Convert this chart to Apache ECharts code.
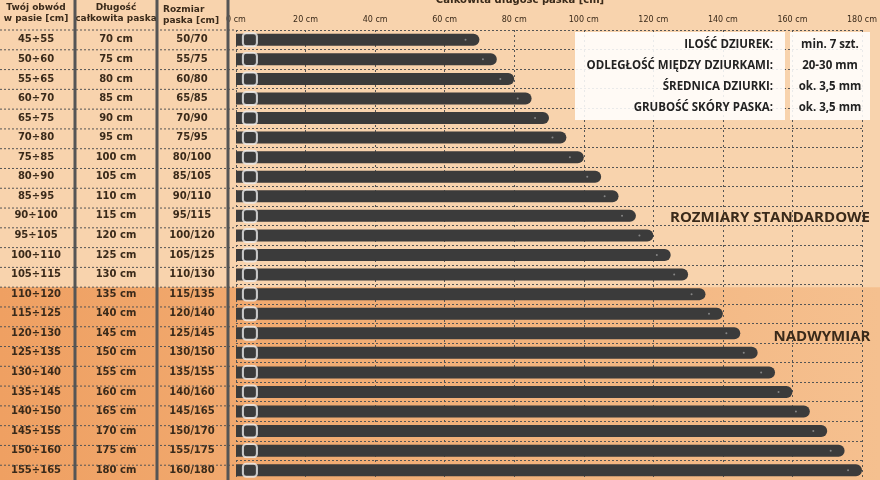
<!DOCTYPE html><html><head><meta charset="utf-8"><script src="https://cdn.jsdelivr.net/npm/echarts@6/dist/echarts.min.js"></script></head><body style="margin:0"><div id="c" style="width:880px;height:480px"></div><script>
const waist=["45÷55","50÷60","55÷65","60÷70","65÷75","70÷80","75÷85","80÷90","85÷95","90÷100","95÷105","100÷110","105÷115","110÷120","115÷125","120÷130","125÷135","130÷140","135÷145","140÷150","145÷155","150÷160","155÷165"];
const sizes=["50/70","55/75","60/80","65/85","70/90","75/95","80/100","85/105","90/110","95/115","100/120","105/125","110/130","115/135","120/140","125/145","130/150","135/155","140/160","145/165","150/170","155/175","160/180"];
const lengths=[70,75,80,85,90,95,100,105,110,115,120,125,130,135,140,145,150,155,160,165,170,175,180];
const lengthLabels=lengths.map(v=>v+" cm");
const info=[["ILOŚĆ DZIUREK:","min. 7 szt."],["ODLEGŁOŚĆ MIĘDZY DZIURKAMI:","20-30 mm"],["ŚREDNICA DZIURKI:","ok. 3,5 mm"],["GRUBOŚĆ SKÓRY PASKA:","ok. 3,5 mm"]];
const F="DejaVu Sans";
const TOP=30,H=455,RH=H/23;
const lab=(m)=>({margin:m,align:'center',fontFamily:F,fontSize:10,fontWeight:'bold',color:'#3a2a1a'});
const ch=echarts.init(document.getElementById('c'));
const g=[
 {type:'rect',z:-10,shape:{x:0,y:0,width:880,height:480},style:{fill:'#f8d3ad'}},
 {type:'rect',z:-9,shape:{x:0,y:TOP+13*RH,width:880,height:200},style:{fill:new echarts.graphic.LinearGradient(0,0,1,0,[{offset:0,color:'#efa062'},{offset:1,color:'#f5c08f'}])}},
 {type:'line',z:5,shape:{x1:75,y1:0,x2:75,y2:480},style:{stroke:'#555',lineWidth:3}},
 {type:'line',z:5,shape:{x1:157,y1:0,x2:157,y2:480},style:{stroke:'#555',lineWidth:3}},
 {type:'line',z:5,shape:{x1:228,y1:0,x2:228,y2:480},style:{stroke:'#555',lineWidth:3}},
 {type:'text',x:36,y:2,style:{text:'Twój obwód\nw pasie [cm]',fontFamily:F,fontSize:9,fontWeight:'bold',fill:'#3a2a1a',align:'center',lineHeight:11}},
 {type:'text',x:116,y:2,style:{text:'Długość\ncałkowita paska',fontFamily:F,fontSize:9,fontWeight:'bold',fill:'#3a2a1a',align:'center',lineHeight:11}},
 {type:'text',x:163,y:4,style:{text:'Rozmiar\npaska [cm]',fontFamily:F,fontSize:9,fontWeight:'bold',fill:'#3a2a1a',align:'left',lineHeight:11}},
 {type:'text',x:520,y:-5,style:{text:'Całkowita długość paska [cm]',fontFamily:F,fontSize:10,fontWeight:'bold',fill:'#3a2a1a',align:'center'}},
 {type:'rect',z:10,shape:{x:575,y:32,width:210,height:88},style:{fill:'rgba(255,255,255,0.88)'}},
 {type:'rect',z:10,shape:{x:790,y:32,width:80,height:88},style:{fill:'rgba(255,255,255,0.88)'}},
 {type:'text',z:10,x:770,y:218,style:{text:'ROZMIARY STANDARDOWE',font:'bold 15px "Open Sans"',fill:'#3a2a1a',align:'center',verticalAlign:'middle'}},
 {type:'text',z:10,x:822,y:337,style:{text:'NADWYMIAR',font:'bold 15px "Open Sans"',fill:'#3a2a1a',align:'center',verticalAlign:'middle'}}
];
for(let i=0;i<=23;i++){const y=TOP+i*RH;g.push({type:'line',z:1,shape:{x1:0,y1:y,x2:236,y2:y},style:{stroke:'#555',lineWidth:1,lineDash:[2,2]}});}
info.forEach((r,i)=>{
 g.push({type:'text',z:11,x:773,y:45+i*21,style:{text:r[0],font:'bold 11.5px "Open Sans"',fill:'#222',align:'right',verticalAlign:'middle'}});
 g.push({type:'text',z:11,x:830,y:45+i*21,style:{text:r[1],font:'bold 11.5px "Open Sans"',fill:'#222',align:'center',verticalAlign:'middle'}});
});
ch.setOption({animation:false,
 grid:{left:236,right:18,top:TOP,height:H},
 xAxis:{type:'value',position:'top',min:0,max:180,interval:20,axisLine:{show:false},axisTick:{show:false},
  axisLabel:{formatter:'{value} cm',fontFamily:F,fontSize:8,color:'#3a2a1a',margin:6},
  splitLine:{lineStyle:{type:[2,3],color:'#555'}}},
 yAxis:[
  {type:'category',data:waist,inverse:true,axisLine:{show:false},axisTick:{show:false},axisLabel:lab(200),splitLine:{show:true,lineStyle:{type:[2,2],color:'#555'}}},
  {type:'category',data:lengthLabels,inverse:true,position:'left',axisLine:{show:false},axisTick:{show:false},axisLabel:lab(120)},
  {type:'category',data:sizes,inverse:true,position:'left',axisLine:{show:false},axisTick:{show:false},axisLabel:lab(44)}
 ],
 series:[
  {type:'bar',data:lengths,barWidth:12,itemStyle:{color:'#3b3b3b',borderRadius:[0,6,6,0]},z:2},
  {type:'scatter',data:lengths.map((v,i)=>[4,i]),symbol:'roundRect',symbolSize:[14,13],itemStyle:{color:'rgba(0,0,0,0)',borderColor:'#eee',borderWidth:2},z:3},
  {type:'scatter',data:lengths.map((v,i)=>[v-4,i]),symbolSize:2,itemStyle:{color:'#999'},z:3}
 ],
 graphic:g});
</script></body></html>
